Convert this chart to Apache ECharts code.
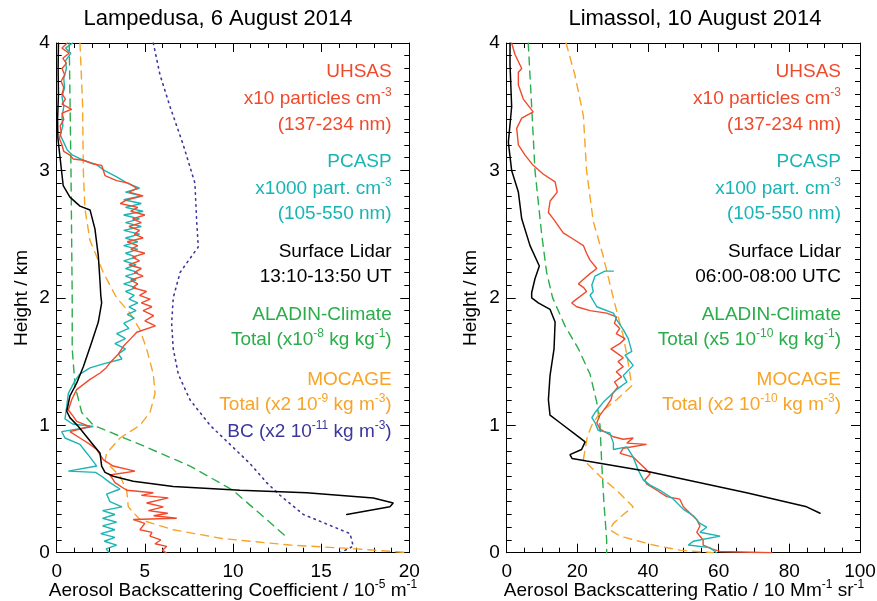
<!DOCTYPE html>
<html>
<head>
<meta charset="utf-8">
<script src="https://cdn.jsdelivr.net/npm/echarts@6/dist/echarts.min.js"></script>
<style>
  html, body { margin: 0; padding: 0; background: #fff; }
  #chart { width: 877px; height: 601px; }
</style>
</head>
<body>
<div id="chart"></div>
<script>
// profiles as [value, height km], top to bottom
// Lampedusa, 6 August 2014
var lampLidar = [[0.1,4.0],[0.08,3.8],[0.1,3.6],[0.05,3.4],[0.07,3.25],[0.37,2.88],[0.75,2.79],[1.32,2.72],[1.89,2.69],[2.17,2.54],[2.36,2.33],[2.46,2.12],[2.5,2.02],[2.55,1.96],[2.36,1.81],[1.98,1.65],[1.51,1.46],[1.13,1.33],[0.75,1.23],[0.57,1.11],[0.75,1.06],[1.23,0.99],[1.7,0.91],[2.17,0.83],[2.46,0.78],[2.55,0.68],[2.74,0.63],[3.21,0.6],[4.34,0.56],[6.61,0.52],[10.4,0.49],[14.18,0.47],[17.96,0.43],[19.09,0.39],[18.9,0.36],[16.45,0.3]];
var lampUhsas = [[0.6,4.0],[0.3,3.96],[0.7,3.92],[0.35,3.88],[0.55,3.84],[0.3,3.8],[0.45,3.75],[0.25,3.7],[0.4,3.65],[0.3,3.6],[0.5,3.56],[0.3,3.52],[0.85,3.48],[0.3,3.45],[0.4,3.4],[0.2,3.35],[0.25,3.3],[0.15,3.25],[0.3,3.2],[0.4,3.15],[0.75,3.12],[0.94,3.09],[1.51,3.08],[2.08,3.05],[2.55,3.04],[2.74,2.96],[3.4,2.92],[4.06,2.9],[4.54,2.86],
  [4.1,2.83],[4.9,2.8],[4.0,2.77],[3.6,2.74],[4.6,2.71],[4.2,2.68],[5.0,2.65],[4.3,2.62],[4.8,2.59],[4.1,2.56],[4.7,2.53],[4.4,2.5],[4.9,2.47],[4.0,2.44],[4.6,2.41],[4.2,2.38],[5.0,2.35],[4.3,2.32],[4.7,2.29],[4.1,2.26],[4.8,2.23],[4.4,2.2],[4.9,2.17],[4.2,2.14],[4.6,2.11],[4.3,2.08],[5.1,2.05],[4.7,2.02],[5.3,1.99],[4.8,1.96],[5.4,1.93],[4.9,1.9],[5.5,1.86],[5.0,1.82],[5.6,1.78],
  [4.54,1.73],[4.2,1.68],[3.78,1.62],[3.5,1.56],[3.02,1.49],[2.8,1.45],[2.46,1.41],[1.89,1.36],[1.13,1.28],[0.85,1.2],[0.66,1.12],[0.94,1.07],[1.13,1.03],[1.89,0.99],[0.75,0.95],[1.32,0.9],[1.89,0.85],[2.27,0.81],[2.64,0.73],[3.2,0.68],[4.44,0.64],[3.02,0.61],[3.31,0.55],[3.97,0.49],[5.48,0.47],[4.8,0.45],[6.33,0.43],[5.1,0.39],[6.05,0.36],[5.2,0.33],[6.3,0.31],[5.5,0.29],[6.81,0.27],[4.34,0.26],[5.0,0.23],[4.72,0.18],[5.4,0.16],[5.29,0.13],[5.9,0.1],[5.58,0.07],[6.24,0.05],[6.0,0.02],[6.2,0.0]];
var lampPcasp = [[0.9,4.0],[0.5,3.96],[0.8,3.92],[0.5,3.86],[0.55,3.8],[0.4,3.72],[0.45,3.65],[0.3,3.58],[0.4,3.5],[0.3,3.42],[0.35,3.35],[0.2,3.28],[0.4,3.22],[0.6,3.16],[0.9,3.12],[1.5,3.08],[2.2,3.05],[2.7,3.0],[3.4,2.95],[4.0,2.9],[4.7,2.86],
  [3.9,2.83],[4.8,2.8],[3.8,2.77],[4.8,2.74],[3.9,2.71],[4.9,2.68],[3.8,2.65],[4.7,2.62],[3.9,2.59],[4.8,2.56],[3.8,2.53],[4.7,2.5],[3.9,2.47],[4.6,2.44],[3.8,2.41],[4.6,2.38],[3.9,2.35],[4.5,2.32],[3.8,2.29],[4.5,2.26],[3.9,2.23],[4.6,2.2],[3.9,2.17],[4.5,2.14],[3.8,2.11],[4.5,2.08],[3.9,2.05],[4.4,2.02],[4.1,1.99],[4.6,1.96],[4.1,1.93],[4.5,1.9],[4.0,1.87],[4.4,1.84],[3.8,1.8],[4.1,1.76],[3.4,1.72],[3.9,1.68],[3.3,1.64],[3.9,1.6],[3.5,1.56],[3.7,1.52],[2.6,1.48],[1.89,1.45],[1.3,1.4],[1.04,1.35],[0.66,1.25],[0.57,1.15],[0.47,1.05],[0.9,1.01],[2.08,0.99],[0.28,0.95],[0.47,0.9],[1.32,0.85],[1.6,0.8],[1.89,0.75],[2.27,0.68],[0.66,0.64],[2.2,0.63],[2.55,0.6],[3.02,0.55],[3.59,0.5],[2.83,0.46],[3.02,0.4],[3.7,0.36],[2.6,0.33],[3.3,0.3],[2.6,0.27],[3.4,0.24],[2.6,0.21],[3.3,0.18],[2.5,0.15],[3.3,0.12],[2.7,0.09],[3.4,0.06],[2.8,0.03],[3.0,0.0]];
var lampAladin = [[0.71,4.0],[0.81,3.0],[0.88,2.0],[0.88,1.6],[1.04,1.31],[1.42,1.1],[2.08,1.0],[4.72,0.85],[7.56,0.68],[10.0,0.49],[11.91,0.26],[13.14,0.11]];
var lampMocage = [[1.32,4.0],[1.47,3.51],[1.51,3.0],[1.6,2.7],[1.89,2.45],[2.64,2.2],[3.4,2.0],[4.16,1.88],[4.72,1.75],[5.1,1.6],[5.48,1.4],[5.58,1.25],[5.29,1.1],[4.72,1.0],[3.59,0.9],[2.83,0.78],[2.74,0.72],[3.59,0.6],[3.97,0.49],[4.06,0.36],[4.72,0.26],[6.61,0.18],[9.45,0.11],[13.23,0.06],[17.0,0.03],[20.0,0.0]];
var lampBc = [[5.48,4.0],[5.86,3.75],[6.43,3.5],[7.18,3.2],[7.84,2.9],[7.94,2.6],[8.03,2.4],[7.0,2.2],[6.61,2.0],[6.52,1.8],[6.61,1.6],[6.9,1.4],[7.56,1.2],[8.7,1.0],[9.83,0.85],[10.96,0.7],[11.91,0.55],[12.67,0.45],[13.99,0.3],[16.64,0.15],[16.82,0.05],[16.07,0.0]];

// Limassol, 10 August 2014
var limLidar = [[0.94,4.0],[0.94,3.83],[1.4,3.5],[0.47,3.22],[1.4,3.0],[3.3,2.83],[4.25,2.62],[6.6,2.41],[9.24,2.25],[8.0,2.15],[7.07,2.04],[7.07,2.0],[8.95,1.96],[12.26,1.91],[13.7,1.81],[13.4,1.6],[12.26,1.39],[11.8,1.2],[12.26,1.08],[15.1,1.02],[19.8,0.92],[22.2,0.87],[21.2,0.81],[17.9,0.77],[18.5,0.74],[22.6,0.72],[39.6,0.64],[67.9,0.47],[84.9,0.36],[88.7,0.31]];
var limUhsas = [[1.4,4.0],[2.35,3.91],[4.25,3.8],[3.3,3.77],[3.3,3.67],[4.7,3.56],[7.5,3.46],[4.25,3.41],[2.83,3.33],[3.3,3.2],[5.2,3.12],[7.5,3.04],[10.4,2.97],[13.7,2.91],[14.3,2.83],[12.3,2.76],[11.8,2.67],[13.2,2.62],[16.0,2.51],[18.9,2.46],[21.7,2.41],[22.6,2.35],[23.5,2.3],[25.5,2.23],[23.6,2.19],[21.5,2.14],[20.3,2.11],[21.8,2.08],[22.6,2.05],[19.3,1.98],[18.4,1.96],[19.8,1.93],[23.6,1.9],[28.3,1.88],[31.1,1.85],[30.5,1.8],[32.0,1.76],[31.0,1.72],[33.5,1.68],[32.0,1.64],[29.5,1.6],[31.0,1.57],[33.0,1.53],[31.5,1.5],[33.0,1.46],[31.0,1.42],[32.5,1.38],[30.5,1.34],[31.5,1.3],[30.0,1.25],[29.5,1.2],[28.3,1.15],[26.4,1.08],[25.5,1.02],[26.4,0.97],[30.2,0.91],[33.0,0.89],[35.8,0.9],[34.0,0.86],[39.6,0.85],[33.0,0.82],[32.1,0.78],[35.8,0.75],[37.7,0.7],[39.6,0.65],[40.6,0.62],[39.1,0.57],[39.6,0.54],[42.5,0.49],[45.3,0.44],[49.0,0.42],[50.0,0.36],[51.9,0.31],[53.8,0.26],[54.7,0.21],[53.8,0.16],[55.6,0.1],[55.6,0.06],[58.0,0.03],[60.4,0.01],[75.0,0.0]];
var limPcasp = [[30.2,2.21],[27.8,2.21],[25.0,2.17],[24.1,2.1],[24.5,2.05],[23.6,2.02],[25.5,1.93],[30.2,1.88],[31.1,1.83],[33.0,1.75],[34.4,1.68],[35.4,1.58],[33.5,1.55],[35.8,1.47],[33.0,1.39],[34.0,1.34],[31.1,1.28],[29.2,1.23],[27.3,1.18],[25.0,1.1],[24.1,1.06],[25.0,1.02],[25.9,0.96],[29.2,0.94],[30.2,0.86],[30.2,0.81],[34.0,0.83],[35.8,0.75],[37.2,0.65],[38.7,0.57],[40.6,0.53],[43.4,0.49],[47.2,0.42],[50.0,0.34],[52.8,0.29],[54.7,0.23],[56.6,0.2],[54.7,0.16],[60.4,0.13],[52.8,0.09],[51.4,0.06],[57.5,0.04],[59.4,0.0]];
var limAladin = [[6.1,4.0],[7.07,3.5],[8.0,3.0],[9.9,2.5],[11.3,2.2],[13.0,2.0],[16.5,1.78],[20.3,1.6],[23.6,1.4],[25.5,1.18],[26.4,1.0],[26.9,0.7],[27.5,0.4],[28.3,0.1],[28.3,0.0]];
var limMocage = [[16.8,4.0],[19.3,3.75],[21.7,3.43],[22.6,3.0],[24.5,2.6],[27.3,2.33],[29.9,2.03],[31.1,1.9],[33.0,1.7],[34.4,1.49],[35.4,1.31],[31.1,1.2],[26.4,1.1],[24.1,1.0],[22.8,0.91],[22.2,0.81],[21.7,0.73],[26.4,0.6],[31.1,0.49],[35.8,0.36],[33.0,0.3],[30.2,0.23],[29.2,0.18],[32.1,0.13],[41.5,0.06],[49.0,0.02],[58.5,0.0]];

var FONT = '"Liberation Sans", Arial, sans-serif';
var RED = '#f04a2c', TEAL = '#1ab4b4', GREEN = '#2aad4a', ORANGE = '#f7a427', NAVY = '#3b379c';

function xAx(grid, max, interval, minor, top) {
  return {
    type: 'value', gridIndex: grid, min: 0, max: max, interval: interval,
    position: top ? 'top' : 'bottom',
    axisLine: { show: true, onZero: false, lineStyle: { color: '#000', width: 1 } },
    axisTick: { show: true, inside: true, length: 9, lineStyle: { color: '#000' } },
    minorTick: { show: true, splitNumber: minor, length: 5, lineStyle: { color: '#000' } },
    axisLabel: { show: !top, color: '#000', fontSize: 19, fontFamily: FONT, margin: 10 },
    splitLine: { show: false }
  };
}
function yAx(grid, right) {
  return {
    type: 'value', gridIndex: grid, min: 0, max: 4, interval: 1,
    position: right ? 'right' : 'left',
    axisLine: { show: true, onZero: false, lineStyle: { color: '#000', width: 1 } },
    axisTick: { show: true, inside: true, length: 9, lineStyle: { color: '#000' } },
    minorTick: { show: true, splitNumber: 10, length: 5, lineStyle: { color: '#000' } },
    axisLabel: { show: !right, color: '#000', fontSize: 19, fontFamily: FONT, margin: 7 },
    splitLine: { show: false }
  };
}
function line(data, color, ax, dash, width) {
  return {
    type: 'line', data: data, xAxisIndex: ax, yAxisIndex: ax,
    symbol: 'none', silent: true, animation: false,
    lineStyle: { color: color, width: width || 1.4, type: dash || 'solid', cap: 'round' }
  };
}
var supStyle = { fontSize: 12, lineHeight: 12, verticalAlign: 'top', fontFamily: FONT };
function txt(x, y, str, color, align, size, rot) {
  var s = size || 19;
  return {
    type: 'text', x: x, y: y, rotation: rot || 0, silent: true,
    style: {
      text: str, fill: color, fontSize: s, fontFamily: FONT, lineHeight: 24,
      align: align || 'right', verticalAlign: 'middle',
      rich: {
        n: { fontSize: s, lineHeight: 24, fontFamily: FONT, fill: color },
        s: Object.assign({ fill: color }, supStyle)
      }
    }
  };
}

var LX = 391.7, RX = 841;
var graphics = [
  txt(218, 19, 'Lampedusa, 6 August 2014', '#000', 'center', 22),
  txt(695, 19, 'Limassol, 10 August 2014', '#000', 'center', 22),
  txt(233, 591, '{n|Aerosol Backscattering Coefficient / 10}{s|-5}{n| m}{s|-1}', '#000', 'center'),
  txt(684, 591, '{n|Aerosol Backscattering Ratio / 10 Mm}{s|-1}{n| sr}{s|-1}', '#000', 'center'),
  txt(22, 298, 'Height / km', '#000', 'center', 19, Math.PI / 2),
  txt(471, 298, 'Height / km', '#000', 'center', 19, Math.PI / 2),

  txt(LX, 71.7, 'UHSAS', RED),
  txt(LX, 98.3, '{n|x10 particles cm}{s|-3}', RED),
  txt(LX, 124.3, '(137-234 nm)', RED),
  txt(LX, 161.7, 'PCASP', TEAL),
  txt(LX, 188.3, '{n|x1000 part. cm}{s|-3}', TEAL),
  txt(LX, 213.3, '(105-550 nm)', TEAL),
  txt(LX, 251.7, 'Surface Lidar', '#000'),
  txt(LX, 276.7, '13:10-13:50 UT', '#000'),
  txt(LX, 315, 'ALADIN-Climate', GREEN),
  txt(LX, 340, '{n|Total (x10}{s|-8}{n| kg kg}{s|-1}{n|)}', GREEN),
  txt(LX, 379.3, 'MOCAGE', ORANGE),
  txt(LX, 405, '{n|Total (x2 10}{s|-9}{n| kg m}{s|-3}{n|)}', ORANGE),
  txt(LX, 431.7, '{n|BC (x2 10}{s|-11}{n| kg m}{s|-3}{n|)}', NAVY),

  txt(RX, 71.7, 'UHSAS', RED),
  txt(RX, 98.3, '{n|x10 particles cm}{s|-3}', RED),
  txt(RX, 124.3, '(137-234 nm)', RED),
  txt(RX, 161.7, 'PCASP', TEAL),
  txt(RX, 188.3, '{n|x100 part. cm}{s|-3}', TEAL),
  txt(RX, 213.3, '(105-550 nm)', TEAL),
  txt(RX, 251.7, 'Surface Lidar', '#000'),
  txt(RX, 276.7, '06:00-08:00 UTC', '#000'),
  txt(RX, 315, 'ALADIN-Climate', GREEN),
  txt(RX, 340, '{n|Total (x5 10}{s|-10}{n| kg kg}{s|-1}{n|)}', GREEN),
  txt(RX, 379.3, 'MOCAGE', ORANGE),
  txt(RX, 405, '{n|Total (x2 10}{s|-10}{n| kg m}{s|-3}{n|)}', ORANGE)
];

var chart = echarts.init(document.getElementById('chart'));
chart.setOption({
  animation: false,
  backgroundColor: '#fff',
  grid: [
    { left: 56.7, right: 467.7, top: 43, bottom: 48.3, outerBoundsMode: 'none' },
    { left: 506.7, right: 17, top: 43, bottom: 48.3, outerBoundsMode: 'none' }
  ],
  xAxis: [xAx(0, 20, 5, 5, false), xAx(0, 20, 5, 5, true), xAx(1, 100, 20, 4, false), xAx(1, 100, 20, 4, true)],
  yAxis: [yAx(0, false), yAx(0, true), yAx(1, false), yAx(1, true)],
  series: [
    line(lampBc, NAVY, 0, [1.5, 4.5], 1.6),
    line(lampAladin, GREEN, 0, [8, 6]),
    line(lampMocage, ORANGE, 0, [8, 6]),
    line(lampPcasp, TEAL, 0),
    line(lampUhsas, RED, 0),
    line(lampLidar, '#000', 0, 'solid', 1.5),
    line(limAladin, GREEN, 2, [8, 6]),
    line(limMocage, ORANGE, 2, [8, 6]),
    line(limUhsas, RED, 2),
    line(limPcasp, TEAL, 2),
    line(limLidar, '#000', 2, 'solid', 1.5)
  ],
  graphic: graphics
});
</script>
</body>
</html>
